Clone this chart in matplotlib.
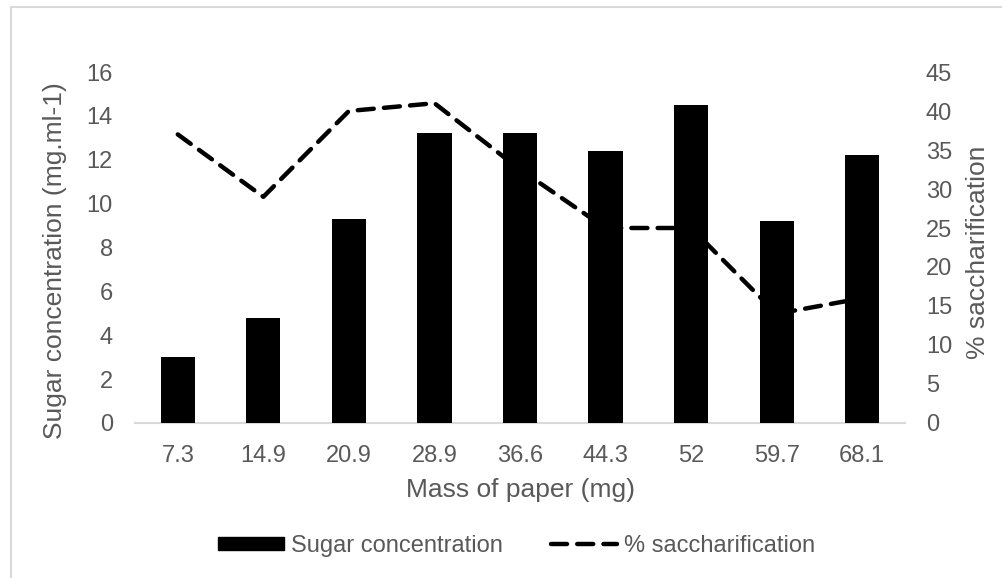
import numpy as np
import matplotlib
matplotlib.use('Agg')
import matplotlib.pyplot as plt
from matplotlib.lines import Line2D
from matplotlib.patches import Patch, Rectangle

plt.rcParams['font.family'] = ['Liberation Sans', 'DejaVu Sans']

# Datos del ensayo
masa_papel = ['7.3', '14.9', '20.9', '28.9', '36.6', '44.3', '52', '59.7', '68.1']
azucar = [3.0, 4.8, 9.3, 13.2, 13.2, 12.4, 14.5, 9.2, 12.2]
sacarificacion = [37, 29, 40, 41, 32.5, 25, 25, 14, 16]

gris = '#595959'
borde = '#d9d9d9'

fig = plt.figure(figsize=(10.03, 5.78), dpi=100)
ax = fig.add_axes([0.1346, 0.2682, 0.9023 - 0.1346, 0.8754 - 0.2682])
ax2 = ax.twinx()

x = np.arange(len(masa_papel))

# Barras en el eje principal, por encima de la línea
ax.bar(x, azucar, width=0.4, color='black', zorder=3)
ax2.plot(x, sacarificacion, color='black', lw=3.2, linestyle=(0, (3.6, 2.3)),
         dash_capstyle='round', solid_capstyle='round')
ax.set_zorder(ax2.get_zorder() + 1)
ax.patch.set_visible(False)

ax.set_xlim(-0.5, len(masa_papel) - 0.5)
ax.set_ylim(0, 16)
ax.set_yticks(range(0, 17, 2))
ax2.set_ylim(0, 45)
ax2.set_yticks(range(0, 46, 5))
ax.set_xticks(x)
ax.set_xticklabels(masa_papel)

for a in (ax, ax2):
    for s in a.spines.values():
        s.set_visible(False)
    a.tick_params(length=0, labelsize=17, colors=gris)
ax.spines['bottom'].set_visible(True)
ax.spines['bottom'].set_color(borde)
ax.spines['bottom'].set_linewidth(1.5)
ax.tick_params(axis='x', pad=16)
ax.tick_params(axis='y', pad=16)
ax2.tick_params(axis='y', pad=15)

ax.set_xlabel('Mass of paper (mg)', fontsize=19, color=gris, labelpad=8)
ax.set_ylabel('Sugar concentration (mg.ml-1)', fontsize=19, color=gris, labelpad=14)
ax2.set_ylabel('% saccharification', fontsize=19, color=gris, labelpad=10)
ax.yaxis.label.set_y(0.464)
ax2.yaxis.label.set_y(0.486)

# Leyenda inferior
handles = [Patch(facecolor='black', edgecolor='black'),
           Line2D([0], [0], color='black', lw=3.2, linestyle=(0, (3.6, 2.3)),
                  dash_capstyle='round')]
fig.legend(handles, ['Sugar concentration', '% saccharification'], loc='center',
           bbox_to_anchor=(0.515, 0.0554), ncol=2, frameon=False, fontsize=17,
           labelcolor=gris, handlelength=2.8, handleheight=0.5,
           handletextpad=0.3, columnspacing=2.0)

# Marco del gráfico
fig.patches.append(Rectangle((11 / 1003, -0.1), 1.2, (578 - 7) / 578 + 0.1,
                             transform=fig.transFigure, fill=False,
                             edgecolor=borde, lw=1.5))

plt.savefig('out.png', dpi=100)
plt.close()
